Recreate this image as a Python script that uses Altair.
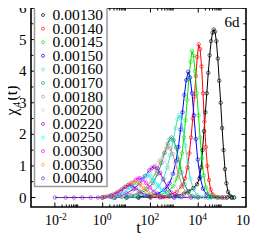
import altair as alt
import pandas as pd

series = ["0.00130", "0.00140", "0.00145", "0.00150", "0.00160", "0.00170", "0.00180",
          "0.00200", "0.00220", "0.00250", "0.00300", "0.00350", "0.00400"]
colors = ["#000000", "#ff0000", "#00e600", "#0000ff", "#40e0d0", "#109a6a", "#bc8f8f",
          "#d8d8d8", "#9400d3", "#00ffff", "#ff00ff", "#ffa500", "#7221bc"]

# log10(t) and chi_4(t) for each temperature
lt_0130 = [0, 0.5, 1.0, 1.5, 2.0, 2.5, 2.8, 3.1, 3.4, 3.6, 3.8, 3.95, 4.05, 4.12, 4.18, 4.24, 4.3, 4.36,
           4.42, 4.48, 4.54, 4.6, 4.65, 4.7, 4.76, 4.82, 4.88, 4.94, 5.0, 5.06, 5.12, 5.18, 5.25, 5.32, 5.4, 5.5]
ch_0130 = [0, 0, 0, 0, 0, 0.01, 0.03, 0.06, 0.12, 0.2, 0.3, 0.42, 0.6, 0.95, 1.5, 2.1, 2.7, 3.3,
           3.95, 4.5, 4.95, 5.22, 5.32, 5.25, 4.95, 4.4, 3.7, 3.0, 2.2, 1.5, 0.9, 0.45, 0.18, 0.06, 0.01, 0]
lt_0140 = [0, 0.5, 1.0, 1.5, 2.0, 2.4, 2.8, 3.1, 3.3, 3.45, 3.55, 3.63, 3.7, 3.77, 3.84, 3.9, 3.96, 4.02,
           4.08, 4.14, 4.2, 4.26, 4.32, 4.38, 4.45, 4.52, 4.6, 4.7, 4.85, 5.0, 5.2, 5.4]
ch_0140 = [0, 0, 0, 0, 0.01, 0.03, 0.08, 0.18, 0.35, 0.6, 0.95, 1.4, 1.9, 2.5, 3.2, 3.85, 4.45, 4.85,
           4.7, 4.15, 3.3, 2.4, 1.6, 1.0, 0.55, 0.25, 0.1, 0.03, 0.01, 0, 0, 0]
lt_0145 = [0, 0.5, 1.0, 1.5, 2.0, 2.4, 2.7, 2.95, 3.1, 3.22, 3.32, 3.4, 3.47, 3.54, 3.61, 3.68, 3.74,
           3.8, 3.87, 3.94, 4.01, 4.08, 4.15, 4.23, 4.32, 4.42, 4.55, 4.7, 4.9, 5.2, 5.4]
ch_0145 = [0, 0, 0, 0.01, 0.03, 0.08, 0.18, 0.35, 0.6, 0.95, 1.4, 1.9, 2.45, 3.1, 3.75, 4.3, 4.64,
           4.5, 4.0, 3.3, 2.6, 1.9, 1.25, 0.7, 0.32, 0.12, 0.04, 0.01, 0, 0, 0]
lt_0150 = [0, 0.5, 1.0, 1.5, 1.9, 2.3, 2.6, 2.8, 2.95, 3.07, 3.17, 3.26, 3.34, 3.42, 3.5, 3.58, 3.66,
           3.74, 3.82, 3.9, 3.98, 4.08, 4.2, 4.35, 4.55, 4.8, 5.1, 5.4]
ch_0150 = [0, 0, 0.01, 0.02, 0.05, 0.12, 0.25, 0.45, 0.75, 1.15, 1.6, 2.15, 2.7, 3.25, 3.72, 3.98, 3.8,
           3.3, 2.6, 1.85, 1.2, 0.65, 0.28, 0.09, 0.02, 0, 0, 0]
lt_0160 = [0, 0.5, 1.0, 1.4, 1.8, 2.1, 2.35, 2.55, 2.7, 2.83, 2.95, 3.05, 3.13, 3.2, 3.28, 3.37, 3.46,
           3.56, 3.67, 3.8, 3.95, 4.15, 4.5, 5.0, 5.5]
ch_0160 = [0, 0, 0.01, 0.03, 0.08, 0.18, 0.35, 0.6, 0.95, 1.35, 1.8, 2.2, 2.48, 2.61, 2.5, 2.15, 1.65,
           1.1, 0.6, 0.25, 0.08, 0.02, 0, 0, 0]
lt_0170 = [0, 0.4, 0.8, 1.2, 1.55, 1.85, 2.1, 2.3, 2.47, 2.6, 2.72, 2.8, 2.88, 2.97, 3.07, 3.18, 3.3,
           3.43, 3.58, 3.75, 4.0, 4.4, 5.0]
ch_0170 = [0, 0.01, 0.02, 0.05, 0.12, 0.25, 0.45, 0.75, 1.1, 1.42, 1.7, 1.84, 1.9, 1.82, 1.58, 1.2, 0.8,
           0.42, 0.17, 0.05, 0.01, 0, 0]
lt_0180 = [0, 0.4, 0.8, 1.15, 1.5, 1.8, 2.05, 2.25, 2.42, 2.56, 2.66, 2.74, 2.83, 2.93, 3.05, 3.18, 3.32,
           3.48, 3.65, 3.9, 4.3]
ch_0180 = [0, 0.01, 0.03, 0.07, 0.15, 0.3, 0.55, 0.85, 1.15, 1.4, 1.55, 1.61, 1.55, 1.38, 1.08, 0.72, 0.4,
           0.16, 0.05, 0.01, 0]
lt_0200 = [0, 0.4, 0.8, 1.15, 1.45, 1.75, 2.0, 2.2, 2.35, 2.47, 2.6, 2.73, 2.87, 3.02, 3.18, 3.35, 3.6, 4.0]
ch_0200 = [0, 0.02, 0.05, 0.12, 0.25, 0.45, 0.75, 1.02, 1.18, 1.25, 1.18, 1.0, 0.72, 0.43, 0.2, 0.07, 0.01, 0]
lt_0220 = [0, 0.35, 0.7, 1.0, 1.3, 1.55, 1.78, 1.95, 2.06, 2.16, 2.28, 2.4, 2.54, 2.7, 2.87, 3.05, 3.3, 3.7]
ch_0220 = [0, 0.02, 0.06, 0.13, 0.27, 0.45, 0.68, 0.86, 0.94, 0.97, 0.92, 0.78, 0.57, 0.35, 0.16, 0.05, 0.01, 0]
lt_0250 = [0, 0.3, 0.6, 0.9, 1.15, 1.4, 1.6, 1.75, 1.87, 2.0, 2.15, 2.3, 2.48, 2.68, 2.9, 3.2, 3.8, 4.5, 5.5]
ch_0250 = [0, 0.03, 0.08, 0.17, 0.3, 0.46, 0.6, 0.68, 0.71, 0.67, 0.55, 0.4, 0.23, 0.1, 0.03, 0.005, 0, 0, 0]
lt_0300 = [0, 0.25, 0.5, 0.75, 1.0, 1.2, 1.38, 1.48, 1.56, 1.68, 1.82, 1.98, 2.15, 2.35, 2.6, 3.0]
ch_0300 = [0, 0.04, 0.1, 0.2, 0.33, 0.46, 0.56, 0.6, 0.61, 0.57, 0.46, 0.32, 0.18, 0.07, 0.02, 0]
lt_0350 = [0, 0.2, 0.45, 0.7, 0.9, 1.07, 1.2, 1.31, 1.43, 1.57, 1.72, 1.9, 2.1, 2.35, 2.7]
ch_0350 = [0, 0.05, 0.12, 0.22, 0.32, 0.41, 0.47, 0.5, 0.48, 0.4, 0.29, 0.17, 0.07, 0.02, 0]
lt_0400 = [-2, -1.55, -1.2, -0.85, -0.5, -0.2, 0.1, 0.35, 0.6, 0.8, 0.95, 1.08, 1.22, 1.38, 1.55, 1.75,
           2.0, 2.4, 3.0, 4.0, 5.2]
ch_0400 = [0, 0, 0, 0, 0, 0, 0.02, 0.07, 0.16, 0.26, 0.34, 0.4, 0.38, 0.3, 0.19, 0.09,
           0.03, 0, 0, 0, 0]

curves = [(lt_0130, ch_0130), (lt_0140, ch_0140), (lt_0145, ch_0145), (lt_0150, ch_0150),
          (lt_0160, ch_0160), (lt_0170, ch_0170), (lt_0180, ch_0180), (lt_0200, ch_0200),
          (lt_0220, ch_0220), (lt_0250, ch_0250), (lt_0300, ch_0300), (lt_0350, ch_0350),
          (lt_0400, ch_0400)]

x_exponents = [-2, 0, 2, 4, 6]
y_major = [0, 1, 2, 3, 4, 5, 6]
y_minor = [0.5, 1.5, 2.5, 3.5, 4.5, 5.5]
x_major = [1e-2, 1e0, 1e2, 1e4]
x_minor = [k * 10.0 ** d for d in (-2, 0, 2, 4) for k in range(2, 10)]

rows = []
for name, (lts, chs) in zip(series, curves):
    for i, (lt, c) in enumerate(zip(lts, chs)):
        rows.append({"series": name, "t": 10.0 ** lt, "chi": c, "idx": i})
df = pd.DataFrame(rows)

W, H = 215, 199
FONT = "Liberation Serif"

xscale = alt.Scale(type="log", domain=[1e-3, 1e6], nice=False)
yscale = alt.Scale(domain=[-0.3, 6], nice=False, zero=False)
cscale = alt.Scale(domain=series, range=colors)
X = alt.X("t:Q", scale=xscale, axis=None)
Y = alt.Y("chi:Q", scale=yscale, axis=None)
C = alt.Color("series:N", scale=cscale, legend=None)

base = alt.Chart(df).encode(x=X, y=Y, color=C, order="idx:Q")
lines = base.mark_line(strokeWidth=1, clip=True)
points = base.mark_point(shape="circle", filled=False, size=12, strokeWidth=0.9, clip=True)


def xrules(vals, y0, y1):
    d = pd.DataFrame({"t": vals})
    return alt.Chart(d).mark_rule(color="black", strokeWidth=1).encode(
        x=X, y=alt.value(y0), y2=alt.value(y1))


def yrules(vals, x0, x1):
    d = pd.DataFrame({"chi": vals})
    return alt.Chart(d).mark_rule(color="black", strokeWidth=1).encode(
        y=Y, x=alt.value(x0), x2=alt.value(x1))


MAJ, MIN = 4.5, 2.5
ticks = [
    xrules(x_major, H, H - MAJ), xrules(x_major, 0, MAJ),
    xrules(x_minor, H, H - MIN), xrules(x_minor, 0, MIN),
    yrules(y_major, 0, MAJ), yrules(y_major, W, W - MAJ),
    yrules(y_minor, 0, MIN), yrules(y_minor, W, W - MIN),
]

# x tick labels 10^e
lab_df = pd.DataFrame({"t": [10.0 ** e for e in x_exponents],
                       "base": ["10"] * len(x_exponents),
                       "exp": [str(e) for e in x_exponents]})
lab_base = alt.Chart(lab_df).mark_text(font=FONT, fontSize=14, align="center",
                                       baseline="alphabetic", dx=-3, color="black").encode(
    x=X, y=alt.value(217), text="base:N")
lab_exp = alt.Chart(lab_df).mark_text(font=FONT, fontSize=9.5, align="left",
                                      baseline="alphabetic", dx=4, color="black").encode(
    x=X, y=alt.value(212), text="exp:N")

# y tick labels
ylab_df = pd.DataFrame({"chi": y_major, "lab": [str(v) for v in y_major]})
ylab = alt.Chart(ylab_df).mark_text(font=FONT, fontSize=15, align="right",
                                    baseline="middle", color="black").encode(
    y=Y, x=alt.value(-4.5), text="lab:N")

# axis titles: t and chi_4(t) (rotated, built from its parts)
title_df = pd.DataFrame({"xt": ["t"], "chi": ["χ"], "sub": ["4"], "rest": ["(t)"]})
xtitle = alt.Chart(title_df).mark_text(font=FONT, fontSize=17, align="center",
                                       baseline="alphabetic", color="black").encode(
    x=alt.value(W / 2), y=alt.value(224.5), text="xt:N")
yt_chi = alt.Chart(title_df).mark_text(font=FONT, fontSize=16, align="center", angle=270,
                                       baseline="alphabetic", color="black").encode(
    x=alt.value(-14), y=alt.value(104), text="chi:N")
yt_sub = alt.Chart(title_df).mark_text(font=FONT, fontSize=11, align="center", angle=270,
                                       baseline="alphabetic", color="black").encode(
    x=alt.value(-11), y=alt.value(96.5), text="sub:N")
yt_rest = alt.Chart(title_df).mark_text(font=FONT, fontSize=16, align="center", angle=270,
                                        baseline="alphabetic", color="black").encode(
    x=alt.value(-14), y=alt.value(85), text="rest:N")

ann = alt.Chart(pd.DataFrame({"label": ["6d"]})).mark_text(
    font=FONT, fontSize=15, align="center", baseline="alphabetic", color="black").encode(
    x=alt.value(201), y=alt.value(19), text="label:N")

main = alt.layer(*ticks, lines, points, lab_base, lab_exp, ylab, xtitle,
                 yt_chi, yt_sub, yt_rest, ann)

# legend box with its own point scale for the rows
leg_df = pd.DataFrame({"series": series})
LY = alt.Y("series:N", scale=alt.Scale(type="point", domain=series, range=[7.0, 170.3], padding=0),
           axis=None)
box = alt.Chart(pd.DataFrame({"k": [0]})).mark_rect(
    fill="white", stroke="#9a9a9a", strokeWidth=1.5).encode(
    x=alt.value(3.5), x2=alt.value(76), y=alt.value(-3), y2=alt.value(178.5))
leg_sym = alt.Chart(leg_df).mark_point(shape="circle", filled=False, size=9, strokeWidth=1).encode(
    x=alt.value(12), y=LY, color=C)
leg_txt = alt.Chart(leg_df).mark_text(font=FONT, fontSize=15.5, align="left", baseline="middle",
                                      color="black").encode(
    x=alt.value(21.5), y=LY, text="series:N")
legend = alt.layer(box, leg_sym, leg_txt)

chart = alt.layer(main, legend).resolve_scale(y="independent").properties(
    width=W, height=H,
    autosize=alt.AutoSizeParams(type="none"),
    padding={"left": 23, "top": 0, "right": 4, "bottom": 26},
).configure(font=FONT).configure_view(stroke="black", strokeWidth=1.6)

chart.save("out.html", embed_options={"renderer": "svg", "actions": False})
